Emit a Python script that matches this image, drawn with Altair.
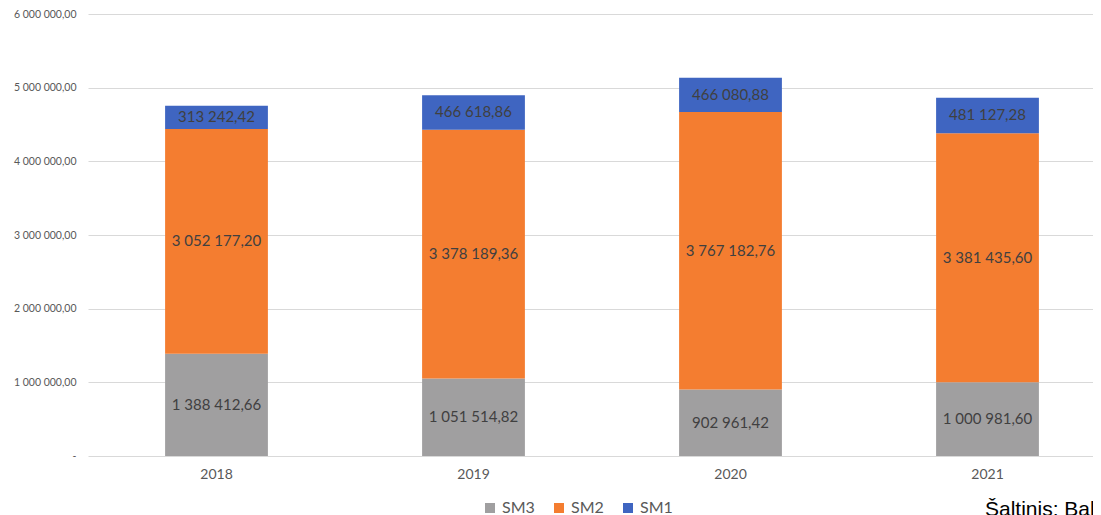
import altair as alt
import pandas as pd

years = ["2018", "2019", "2020", "2021"]
series = ["SM3", "SM2", "SM1"]
sm3 = [1388412.66, 1051514.82, 902961.42, 1000981.60]
sm2 = [3052177.20, 3378189.36, 3767182.76, 3381435.60]
sm1 = [313242.42, 466618.86, 466080.88, 481127.28]
colors = ["#A09FA0", "#F47D30", "#3F65C1"]
y_ticks = [0, 1000000, 2000000, 3000000, 4000000, 5000000, 6000000]
y_tick_labels = ["-", "1 000 000,00", "2 000 000,00", "3 000 000,00",
                 "4 000 000,00", "5 000 000,00", "6 000 000,00"]
source_text = "Šaltinis: Baltijos"


def fmt(v):
    return f"{v:,.2f}".replace(",", " ").replace(".", ",")


rows = []
for i, y in enumerate(years):
    for k, (name, vals) in enumerate(zip(series, [sm3, sm2, sm1])):
        rows.append({"year": y, "series": name, "ord": k,
                     "value": vals[i], "label": fmt(vals[i])})
df = pd.DataFrame(rows)

font = "Lato"
label_expr = "[" + ",".join(f"'{t}'" for t in y_tick_labels) + "][round(datum.value/1000000)]"
xscale = alt.Scale(range=[0, 1028], paddingInner=0.6, paddingOuter=0.3)

x_enc = alt.X("year:N", sort=years, title=None, scale=xscale,
              axis=alt.Axis(labelAngle=0, domain=False, ticks=False, grid=False, labelPadding=11,
                            labelFontSize=14, labelColor="#595959", labelFont=font))

base = alt.Chart(df).transform_stack(
    stack="value", as_=["y0", "y1"], groupby=["year"],
    sort=[alt.SortField("ord", order="ascending")]
).transform_calculate(mid="(datum.y0 + datum.y1) / 2")

bars = base.mark_bar().encode(
    x=x_enc,
    y=alt.Y("y0:Q", title=None,
            scale=alt.Scale(domain=[0, 6000000], nice=False),
            axis=alt.Axis(values=y_ticks, labelExpr=label_expr, domain=False, ticks=False,
                          labelPadding=12, labelFontSize=10.5, labelColor="#595959",
                          labelFont=font, gridColor="#D9D9D9", gridWidth=1)),
    y2="y1:Q",
    color=alt.Color("series:N", sort=series,
                    scale=alt.Scale(domain=series, range=colors),
                    legend=alt.Legend(title=None, orient="none", direction="horizontal",
                                      legendX=394, legendY=486, symbolType="square",
                                      symbolSize=100, symbolStrokeWidth=0,
                                      labelFontSize=16, labelColor="#595959",
                                      labelFont=font, columnPadding=16, labelOffset=4)),
)

texts = base.mark_text(fontSize=15, color="#404040", font=font).encode(
    x=alt.X("year:N", sort=years, scale=xscale),
    y=alt.Y("mid:Q"),
    text="label:N",
)

src = alt.Chart(pd.DataFrame({"t": [source_text]})).mark_text(
    align="left", baseline="alphabetic", fontSize=21, font="Liberation Sans", color="#000000"
).encode(x=alt.value(897), y=alt.value(502), text="t:N")

chart = alt.layer(bars, texts, src).properties(
    width=1005, height=442,
    background="white",
    autosize=alt.AutoSizeParams(type="none"),
    padding={"left": 80, "top": 6, "right": 0, "bottom": 59},
).configure_view(stroke=None)

chart.save("out.html", embed_options={"renderer": "svg", "actions": False})
